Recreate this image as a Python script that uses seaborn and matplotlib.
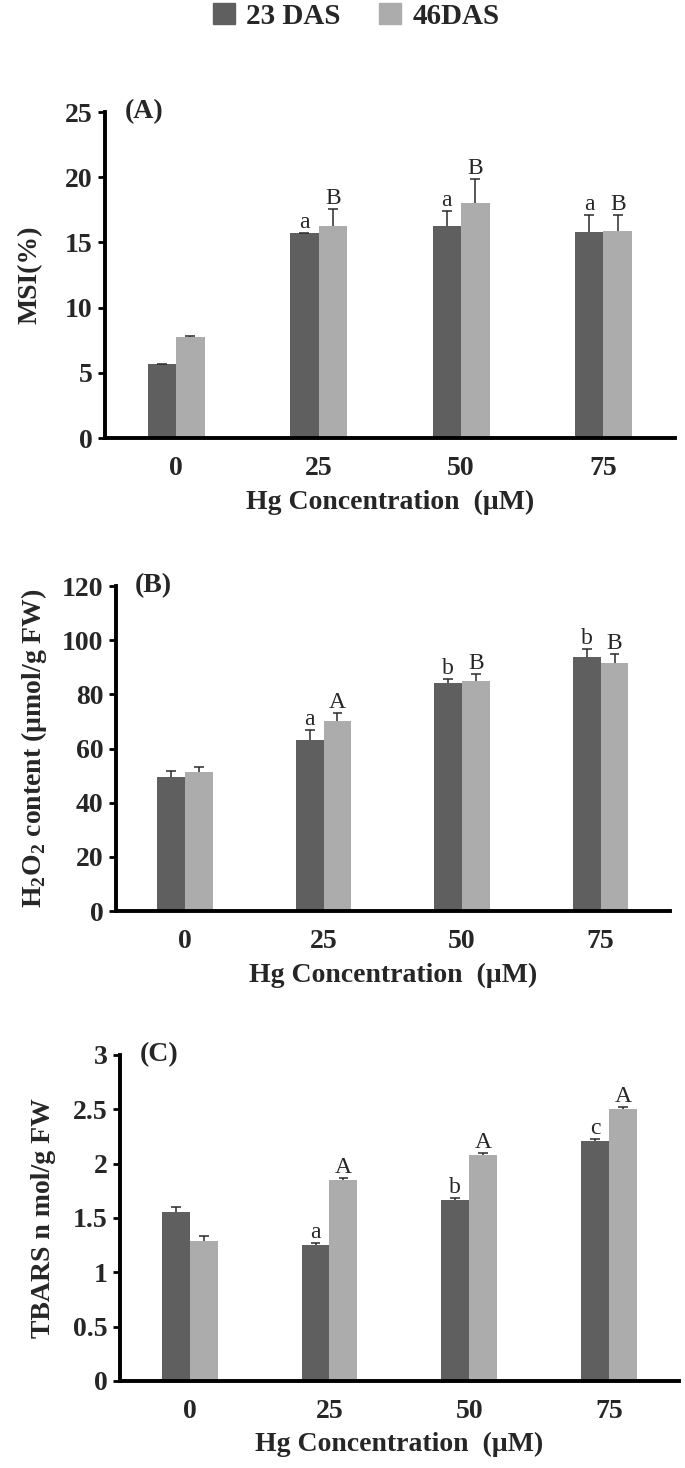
import numpy as np
import pandas as pd
import matplotlib
matplotlib.use("Agg")
import matplotlib.pyplot as plt
import seaborn as sns

# Data
conc = ["0", "25", "50", "75"]
days = ["23 DAS", "46DAS"]

msi_23 = [5.66, 15.69, 16.25, 15.82]
msi_46 = [7.78, 16.25, 18.04, 15.89]
msi_23_err = [0.05, 0.05, 1.17, 1.32]
msi_46_err = [0.05, 1.30, 1.86, 1.25]
msi_23_lab = ["", "a", "a", "a"]
msi_46_lab = ["", "B", "B", "B"]

h2o2_23 = [49.6, 63.3, 84.3, 93.8]
h2o2_46 = [51.2, 70.0, 85.1, 91.4]
h2o2_23_err = [2.2, 3.5, 1.4, 3.0]
h2o2_46_err = [2.1, 3.2, 2.5, 3.4]
h2o2_23_lab = ["", "a", "b", "b"]
h2o2_46_lab = ["", "A", "B", "B"]

tbars_23 = [1.55, 1.25, 1.664, 2.208]
tbars_46 = [1.29, 1.85, 2.079, 2.50]
tbars_23_err = [0.05, 0.02, 0.02, 0.02]
tbars_46_err = [0.04, 0.02, 0.02, 0.025]
tbars_23_lab = ["", "a", "b", "c"]
tbars_46_lab = ["", "A", "A", "A"]

dark = "#5f5f5f"
light = "#acacac"

sns.set_style("white")
plt.rcParams["font.family"] = ["Liberation Serif", "DejaVu Serif"]
plt.rcParams["mathtext.fontset"] = "custom"
plt.rcParams["mathtext.rm"] = "Liberation Serif"
plt.rcParams["mathtext.bf"] = "Liberation Serif:bold"

FS = 20


def make_df(v23, v46):
    return pd.DataFrame({
        "conc": conc * 2,
        "day": [days[0]] * 4 + [days[1]] * 4,
        "value": list(v23) + list(v46),
    })


def panel(ax, v23, v46, e23, e46, l23, l46, ymax, ystep, ylabel, tag, ticklabels, ypad):
    df = make_df(v23, v46)
    sns.barplot(data=df, x="conc", y="value", hue="day", order=conc, hue_order=days,
                palette=[dark, light], width=0.4, gap=0, errorbar=None,
                saturation=1, legend=False, linewidth=0, ax=ax)
    # bars come out hue by hue
    bars = ax.patches[:8]
    xs = np.array([b.get_x() + b.get_width() / 2 for b in bars])
    means = np.array(list(v23) + list(v46))
    errs = np.array(list(e23) + list(e46))
    labs = list(l23) + list(l46)
    # one-sided error bars, cap on top only
    tops = means + errs
    ax.vlines(xs, means, tops, color="#2a2a2a", linewidth=1.1, zorder=3)
    ax.hlines(tops, xs - 0.035, xs + 0.035, color="#2a2a2a", linewidth=1.1, zorder=3)
    for x, t, s in zip(xs, tops, labs):
        if s:
            ax.annotate(s, (x, t), xytext=(0, 0), textcoords="offset points",
                        ha="center", va="bottom", fontsize=17)

    ax.set_xlim(-0.5, 3.5)
    ax.set_ylim(0, ymax)
    yt = np.arange(0, ymax + ystep / 2, ystep)
    ax.set_yticks(yt)
    ax.set_yticklabels(ticklabels, fontsize=FS, fontweight="bold")
    ax.set_xticks(range(4))
    ax.set_xticklabels(conc, fontsize=FS, fontweight="bold")
    ax.set_xticks([-0.5, 0.5, 1.5, 2.5, 3.5], minor=True)
    ax.tick_params(axis="x", which="major", length=0, pad=13)
    ax.tick_params(axis="x", which="minor", length=7, width=2.5, direction="out", color="black")
    ax.tick_params(axis="y", length=5, width=2, direction="out", color="black", pad=4, left=True)
    ax.set_xlabel("Hg Concentration  (µM)", fontsize=FS, fontweight="bold", labelpad=6)
    ax.set_ylabel(ylabel, fontsize=FS, fontweight="bold", labelpad=ypad)
    for s in ["top", "right"]:
        ax.spines[s].set_visible(False)
    for s in ["left", "bottom"]:
        ax.spines[s].set_linewidth(2.8)
        ax.spines[s].set_color("black")
    ax.text(0.035, 1.0, tag, transform=ax.transAxes, fontsize=FS, fontweight="bold",
            ha="left", va="center")


fig = plt.figure(figsize=(6.85, 14.68), dpi=100)
ax1 = fig.add_axes([0.153, 0.7016, 0.832, 0.2221])
ax2 = fig.add_axes([0.169, 0.3794, 0.809, 0.2214])
ax3 = fig.add_axes([0.175, 0.0593, 0.816, 0.2221])

panel(ax1, msi_23, msi_46, msi_23_err, msi_46_err, msi_23_lab, msi_46_lab,
      25, 5, "MSI(%)", "(A)", ["0", "5", "10", "15", "20", "25"], 16)
panel(ax2, h2o2_23, h2o2_46, h2o2_23_err, h2o2_46_err, h2o2_23_lab, h2o2_46_lab,
      120, 20, r"H$_\mathbf{2}$O$_\mathbf{2}$ content (µmol/g FW)", "(B)",
      ["0", "20", "40", "60", "80", "100", "120"], 9)
panel(ax3, tbars_23, tbars_46, tbars_23_err, tbars_46_err, tbars_23_lab, tbars_46_lab,
      3, 0.5, "TBARS n mol/g FW", "(C)", ["0", "0.5", "1", "1.5", "2", "2.5", "3"], 12)

handles = [plt.Rectangle((0, 0), 1, 1, color=dark), plt.Rectangle((0, 0), 1, 1, color=light)]
fig.legend(handles, days, loc="upper center", bbox_to_anchor=(0.52, 1.016), ncol=2,
           frameon=False, prop={"family": "Liberation Serif", "weight": "bold", "size": 21},
           handlelength=0.75, handleheight=0.75, handletextpad=0.4, columnspacing=1.3)

fig.savefig("out.png", dpi=100)
